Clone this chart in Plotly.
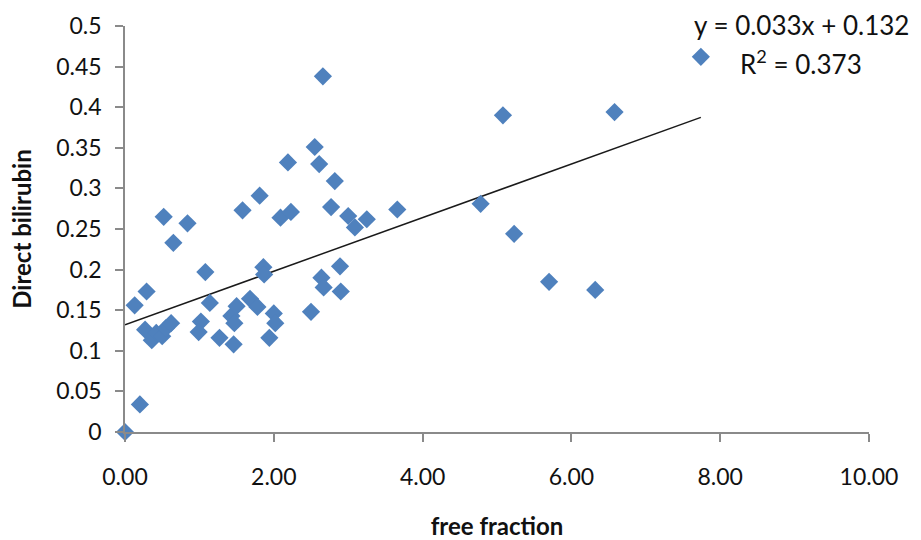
import plotly.graph_objects as go

free_fraction = [0.00, 0.20, 0.13, 0.29, 0.27, 0.36, 0.42, 0.50, 0.55, 0.62,
                 0.52, 0.65, 0.84, 1.08, 1.14, 1.02, 0.99, 1.27, 1.46, 1.43,
                 1.47, 1.50, 1.68, 1.78, 2.00, 2.02, 1.94, 1.58, 1.81, 1.86,
                 1.87, 2.09, 2.23, 2.19, 2.55, 2.61, 2.66, 2.82, 2.77, 3.00,
                 3.09, 3.25, 3.66, 2.50, 2.64, 2.67, 2.90, 2.89, 4.78, 5.08,
                 5.23, 5.70, 6.32, 6.58, 7.74]
direct_bilirubin = [0.000, 0.034, 0.156, 0.173, 0.126, 0.113, 0.122, 0.118, 0.128, 0.134,
                    0.265, 0.233, 0.257, 0.197, 0.159, 0.136, 0.123, 0.116, 0.108, 0.143,
                    0.134, 0.155, 0.164, 0.154, 0.146, 0.134, 0.116, 0.273, 0.291, 0.203,
                    0.194, 0.264, 0.271, 0.332, 0.351, 0.330, 0.438, 0.309, 0.277, 0.266,
                    0.252, 0.262, 0.274, 0.148, 0.190, 0.178, 0.173, 0.204, 0.281, 0.390,
                    0.244, 0.185, 0.175, 0.394, 0.462]

slope = 0.033
intercept = 0.132
r_squared = 0.373

y_tick_vals = [0, 0.05, 0.1, 0.15, 0.2, 0.25, 0.3, 0.35, 0.4, 0.45, 0.5]
y_tick_text = ["0", "0.05", "0.1", "0.15", "0.2", "0.25", "0.3", "0.35", "0.4", "0.45", "0.5"]
x_tick_vals = [0, 2, 4, 6, 8, 10]
x_tick_text = ["0.00", "2.00", "4.00", "6.00", "8.00", "10.00"]

FONT = "Lato"
AXIS_COLOR = "#8a8a8a"
TEXT_COLOR = "#111111"

x_line = [0, max(free_fraction)]
y_line = [intercept + slope * v for v in x_line]

fig = go.Figure()
fig.add_trace(go.Scatter(
    x=x_line, y=y_line, mode="lines",
    line=dict(color="#1a1a1a", width=1.5),
    showlegend=False, hoverinfo="skip", cliponaxis=False,
))
fig.add_trace(go.Scatter(
    x=free_fraction, y=direct_bilirubin, mode="markers",
    marker=dict(symbol="diamond", size=14, color="#4F81BD", line=dict(width=0)),
    showlegend=False, cliponaxis=False,
))

L, R, T, B = 125, 52, 26, 108
W, H = 921, 540
plot_w = W - L - R
plot_h = H - T - B


def px_to_paper(px, py):
    return (px - L) / plot_w, (H - B - py) / plot_h


fig.update_layout(
    width=W, height=H,
    margin=dict(l=L, r=R, t=T, b=B, autoexpand=False),
    paper_bgcolor="white", plot_bgcolor="white",
    font=dict(family=FONT, size=23, color=TEXT_COLOR),
    xaxis=dict(
        range=[0, 10], tickvals=x_tick_vals, ticktext=x_tick_text, automargin=False,
        showgrid=False, zeroline=False, showline=True, linecolor=AXIS_COLOR, linewidth=1.5,
        ticks="outside", ticklen=8, tickcolor=AXIS_COLOR, tickwidth=1.5,
        ticklabelstandoff=16,
        title=dict(text="<b>free fraction</b>", font=dict(family=FONT, size=24), standoff=31),
    ),
    yaxis=dict(
        range=[0, 0.5], tickvals=y_tick_vals, ticktext=y_tick_text, automargin=False,
        showgrid=False, zeroline=False, showline=True, linecolor=AXIS_COLOR, linewidth=1.5,
        ticks="outside", ticklen=8, tickcolor=AXIS_COLOR, tickwidth=1.5,
        ticklabelstandoff=9,
        title=dict(text="<b>Direct bilirubin</b>", font=dict(family=FONT, size=24), standoff=18),
    ),
)

ex, ey = px_to_paper(801, 25)
fig.add_annotation(
    x=ex, y=ey, xref="paper", yref="paper", text=f"y = {slope}x + {intercept}",
    showarrow=False, font=dict(family=FONT, size=26, color=TEXT_COLOR),
    xanchor="center", yanchor="middle",
)
rx, ry = px_to_paper(801, 62)
fig.add_annotation(
    x=rx, y=ry, xref="paper", yref="paper", text=f"R<sup>2</sup> = {r_squared}",
    showarrow=False, font=dict(family=FONT, size=26, color=TEXT_COLOR),
    xanchor="center", yanchor="middle",
)

fig.write_html("out.html")
